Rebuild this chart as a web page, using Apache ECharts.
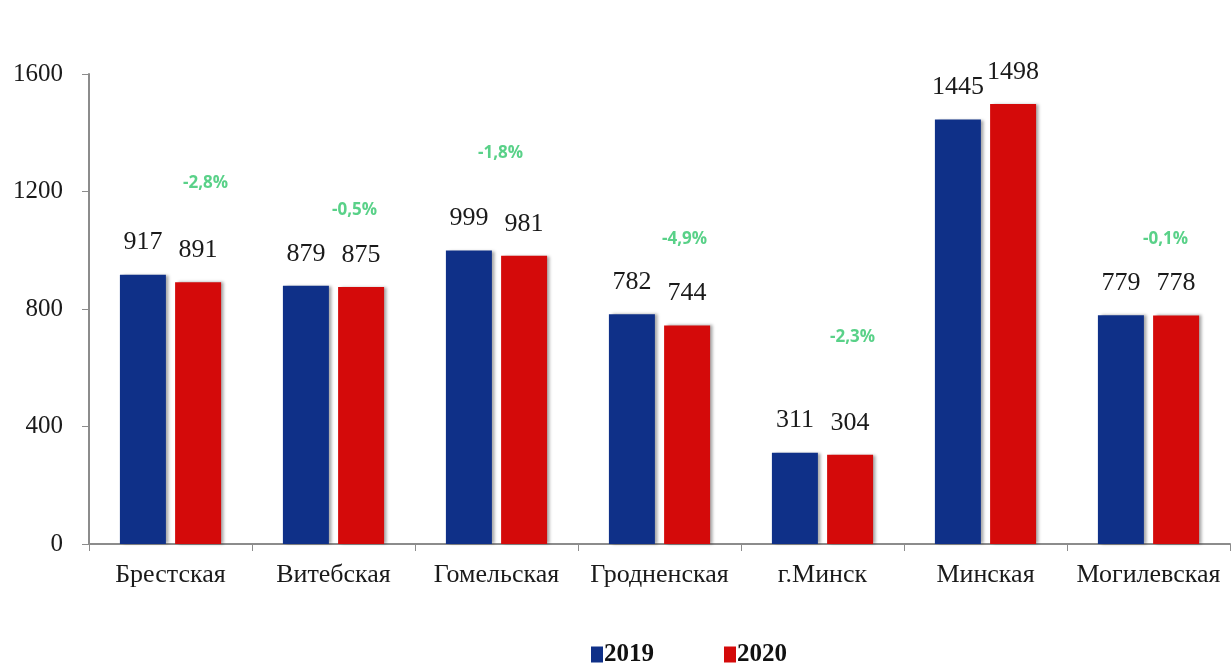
<!DOCTYPE html>
<html>
<head>
<meta charset="utf-8">
<script src="https://cdn.jsdelivr.net/npm/echarts@6/dist/echarts.min.js"></script>
<style>
  html, body { margin: 0; padding: 0; background: #fff; }
  #chart { width: 1232px; height: 669px; }
</style>
</head>
<body>
<div id="chart"></div>
<script>
// Regions
const categories = ['Брестская', 'Витебская', 'Гомельская', 'Гродненская', 'г.Минск', 'Минская', 'Могилевская'];
const values2019 = [917, 879, 999, 782, 311, 1445, 779];
const values2020 = [891, 875, 981, 744, 304, 1498, 778];
// Year-over-year change labels
const changeLabels = ['-2,8%', '-0,5%', '-1,8%', '-4,9%', '-2,3%', '3,7%', '-0,1%'];
const yTicks = [0, 400, 800, 1200, 1600];

// Where the change labels sit (axis units and horizontal shift in px)
const changeLabelHeight = [1230, 1135, 1332, 1037, 704, 1778, 1037];
const changeLabelShift = [35, 21, 4, 25, 30, 25, 17];

const serif = '"Liberation Serif", "DejaVu Serif", serif';
const numberLabel = {
  show: true,
  position: 'top',
  distance: 19,
  color: '#1a1a1a',
  fontFamily: serif,
  fontSize: 26
};
const barShadow = {
  shadowColor: 'rgba(0,0,0,0.35)',
  shadowBlur: 3,
  shadowOffsetX: 3,
  shadowOffsetY: 0
};

const chart = echarts.init(document.getElementById('chart'));
chart.setOption({
  animation: false,
  backgroundColor: '#ffffff',
  grid: { left: 89, right: 2, top: 74, bottom: 125 },
  legend: {
    left: 586,
    bottom: -3,
    itemGap: 70,
    itemWidth: 12,
    itemHeight: 16,
    icon: 'rect',
    textStyle: { fontFamily: serif, fontWeight: 'bold', fontSize: 25, color: '#111', padding: [0, 0, 0, -4] },
    data: ['2019', '2020']
  },
  xAxis: {
    type: 'category',
    data: categories,
    axisLine: { lineStyle: { color: '#8c8c8c', width: 2 } },
    axisTick: { show: true, interval: 0, length: 7, lineStyle: { color: '#8c8c8c' } },
    axisLabel: { interval: 0, color: '#1a1a1a', fontFamily: serif, fontSize: 26, margin: 18 }
  },
  yAxis: {
    type: 'value',
    min: 0,
    max: 1600,
    interval: 400,
    splitLine: { show: false },
    axisLine: { show: true, lineStyle: { color: '#8c8c8c', width: 2 } },
    axisTick: { show: true, length: 7, lineStyle: { color: '#8c8c8c' } },
    axisLabel: {
      color: '#1a1a1a', fontFamily: serif, fontSize: 25, margin: 26,
      formatter: v => (yTicks.includes(v) ? String(v) : '')
    }
  },
  series: [
    {
      name: '2019',
      type: 'bar',
      data: values2019,
      barWidth: 46,
      barGap: '20%',
      itemStyle: Object.assign({ color: '#0f3088' }, barShadow),
      label: numberLabel
    },
    {
      name: '2020',
      type: 'bar',
      data: values2020,
      barWidth: 46,
      barGap: '20%',
      itemStyle: Object.assign({ color: '#d40a0a' }, barShadow),
      label: numberLabel
    },
    {
      name: 'change',
      type: 'scatter',
      symbolSize: 0,
      silent: true,
      data: categories.map((c, i) => ({
        value: [i, changeLabelHeight[i]],
        label: {
          show: true,
          position: 'inside',
          offset: [changeLabelShift[i], 0],
          formatter: changeLabels[i],
          color: changeLabels[i].startsWith('-') ? '#2fc56a' : '#e8364a',
          fontFamily: '"Liberation Sans Narrow", "Open Sans", "Liberation Sans", sans-serif',
          fontWeight: 'bold',
          fontSize: 17
        }
      }))
    }
  ]
});
</script>
</body>
</html>
